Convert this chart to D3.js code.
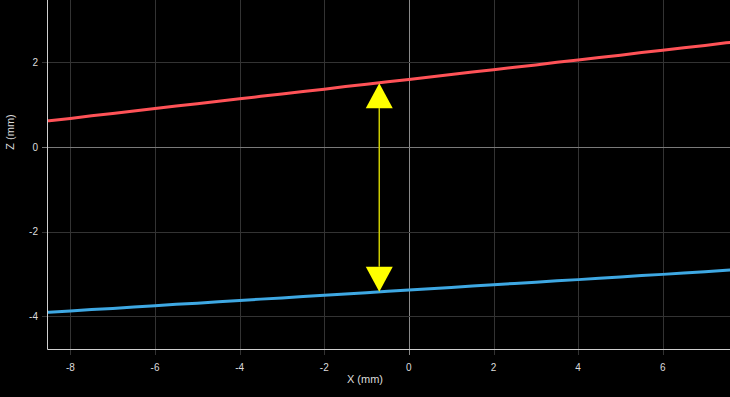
<!DOCTYPE html>
<html lang="en">
<head>
    <meta charset="UTF-8">
    <title>Z profile</title>
    <script type="text/javascript" src="https://cdn.jsdelivr.net/npm/d3@7"></script>
    <style>
        body { margin: 0; background: #000; }
        svg { display: block; }
    </style>
</head>
<body>
<script type="text/javascript">
    var w = 730;
    var h = 397;
    var margin = {top: 0, right: 0, bottom: 48, left: 48};

    // profile positions (mm)
    var xs = [-9, -8.5, -8, -7.5, -7, -6.5, -6, -5.5, -5, -4.5, -4, -3.5, -3, -2.5, -2, -1.5, -1, -0.5,
              0, 0.5, 1, 1.5, 2, 2.5, 3, 3.5, 4, 4.5, 5, 5.5, 6, 6.5, 7, 7.5, 8];
    // upper profile (red)
    var upperZ = [0.566, 0.622, 0.676, 0.738, 0.792, 0.853, 0.908, 0.968, 1.022, 1.082, 1.138, 1.198, 1.251,
                  1.312, 1.366, 1.428, 1.483, 1.541, 1.598, 1.657, 1.712, 1.772, 1.826, 1.887, 1.941, 2.003,
                  2.056, 2.117, 2.171, 2.232, 2.285, 2.347, 2.401, 2.462, 2.516];
    // lower profile (blue)
    var lowerZ = [-3.940, -3.906, -3.878, -3.844, -3.816, -3.782, -3.755, -3.720, -3.692, -3.658, -3.631,
                  -3.596, -3.568, -3.534, -3.507, -3.472, -3.445, -3.410, -3.382, -3.348, -3.321, -3.286,
                  -3.259, -3.224, -3.197, -3.162, -3.135, -3.100, -3.073, -3.038, -3.011, -2.976, -2.949,
                  -2.914, -2.886];
    var xTicks = [-8, -6, -4, -2, 0, 2, 4, 6];
    var yTicks = [-4, -2, 0, 2];
    // gap marker
    var gapX = -0.7;
    var gapTop = 1.51;
    var gapBottom = -3.42;

    var svg = d3.select("body")
        .append("svg")
        .attr("width", w)
        .attr("height", h)
        .style("background", "#000");

    var x = d3.scaleLinear().domain([-8.53, 7.59]).range([margin.left, w - margin.right]);
    var y = d3.scaleLinear().domain([-4.775, 3.475]).range([h - margin.bottom, margin.top]);

    svg.append("clipPath").attr("id", "plot")
        .append("rect")
        .attr("x", margin.left).attr("y", margin.top)
        .attr("width", w - margin.left - margin.right)
        .attr("height", h - margin.top - margin.bottom);

    // grid
    var grid = svg.append("g");
    grid.selectAll("line.gx")
        .data(xTicks).enter()
        .append("line")
        .attr("x1", function (d) { return Math.round(x(d)) + 0.5; })
        .attr("x2", function (d) { return Math.round(x(d)) + 0.5; })
        .attr("y1", margin.top)
        .attr("y2", h - margin.bottom + 6)
        .attr("stroke", function (d) { return d === 0 ? "#8a8a8a" : "#333"; })
        .attr("stroke-width", 1);
    grid.selectAll("line.gy")
        .data(yTicks).enter()
        .append("line")
        .attr("y1", function (d) { return Math.round(y(d)) + 0.5; })
        .attr("y2", function (d) { return Math.round(y(d)) + 0.5; })
        .attr("x1", margin.left - 6)
        .attr("x2", w)
        .attr("stroke", function (d) { return d === 0 ? "#7a7a7a" : "#333"; })
        .attr("stroke-width", 1);

    // axes lines
    svg.append("line")
        .attr("x1", margin.left - 0.5).attr("x2", margin.left - 0.5)
        .attr("y1", 0).attr("y2", h - margin.bottom + 0.5)
        .attr("stroke", "#cfcfcf");
    svg.append("line")
        .attr("x1", margin.left - 0.5).attr("x2", w)
        .attr("y1", h - margin.bottom + 0.5).attr("y2", h - margin.bottom + 0.5)
        .attr("stroke", "#cfcfcf");

    // tick labels
    svg.selectAll("text.xt")
        .data(xTicks).enter()
        .append("text")
        .attr("x", function (d) { return x(d); })
        .attr("y", h - margin.bottom + 22)
        .attr("text-anchor", "middle")
        .attr("font-family", "Liberation Sans, Arial, sans-serif")
        .attr("font-size", 10)
        .attr("fill", "#dcdcdc")
        .text(function (d) { return d; });
    svg.selectAll("text.yt")
        .data(yTicks).enter()
        .append("text")
        .attr("x", margin.left - 10)
        .attr("y", function (d) { return y(d); })
        .attr("dy", "0.35em")
        .attr("text-anchor", "end")
        .attr("font-family", "Liberation Sans, Arial, sans-serif")
        .attr("font-size", 10)
        .attr("fill", "#dcdcdc")
        .text(function (d) { return d; });

    // axis titles
    svg.append("text")
        .attr("x", w / 2)
        .attr("y", 383)
        .attr("text-anchor", "middle")
        .attr("font-family", "Liberation Sans, Arial, sans-serif")
        .attr("font-size", 11)
        .attr("fill", "#dcdcdc")
        .text("X (mm)");
    svg.append("text")
        .attr("transform", "translate(14,132) rotate(-90)")
        .attr("text-anchor", "middle")
        .attr("font-family", "Liberation Sans, Arial, sans-serif")
        .attr("font-size", 11)
        .attr("fill", "#dcdcdc")
        .text("Z (mm)");

    // profiles
    var line = d3.line()
        .x(function (d) { return x(d[0]); })
        .y(function (d) { return y(d[1]); });
    var plot = svg.append("g").attr("clip-path", "url(#plot)");
    plot.append("path")
        .datum(d3.zip(xs, upperZ))
        .attr("d", line)
        .attr("fill", "none")
        .attr("stroke", "#ff5257")
        .attr("stroke-width", 3);
    plot.append("path")
        .datum(d3.zip(xs, lowerZ))
        .attr("d", line)
        .attr("fill", "none")
        .attr("stroke", "#3ea8e3")
        .attr("stroke-width", 3);

    // gap arrow
    var ax = x(gapX), ay1 = y(gapTop), ay2 = y(gapBottom);
    var headW = 27, headH = 25;
    plot.append("line")
        .attr("x1", ax).attr("x2", ax)
        .attr("y1", ay1 + headH).attr("y2", ay2 - headH)
        .attr("stroke", "#cccc00")
        .attr("stroke-width", 1.5);
    plot.append("path")
        .attr("d", "M" + ax + "," + ay1 + "L" + (ax + headW / 2) + "," + (ay1 + headH) + "L" + (ax - headW / 2) + "," + (ay1 + headH) + "Z")
        .attr("fill", "#ffff00");
    plot.append("path")
        .attr("d", "M" + ax + "," + ay2 + "L" + (ax + headW / 2) + "," + (ay2 - headH) + "L" + (ax - headW / 2) + "," + (ay2 - headH) + "Z")
        .attr("fill", "#ffff00");
</script>
</body>
</html>
